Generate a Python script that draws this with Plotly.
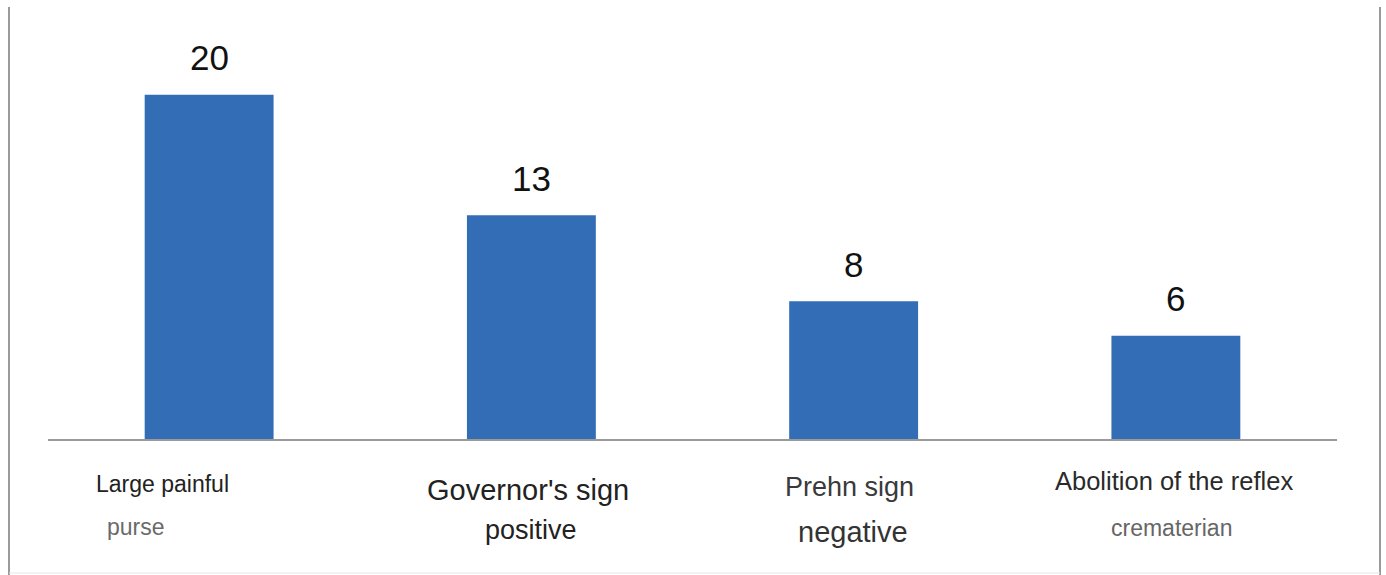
import plotly.graph_objects as go

categories = ["Large painful purse", "Governor's sign positive", "Prehn sign negative", "Abolition of the reflex crematerian"]
values = [20, 13, 8, 6]
label_line1 = ["Large painful", "Governor's sign", "Prehn sign", "Abolition of the reflex"]
label_line2 = ["purse", "positive", "negative", "crematerian"]

W, H = 1386, 575
ML, MR, MT, MB = 48, 49, 26, 136
PH = H - MT - MB

def py(p):
    return (H - MB - p) / PH

def px(p):
    return (p - ML) / (W - ML - MR)

fig = go.Figure()
fig.add_trace(go.Bar(
    x=list(range(len(categories))), y=values, width=0.4,
    marker=dict(color="#336DB5", line=dict(width=0)),
    hoverinfo="skip",
))

for i, v in enumerate(values):
    fig.add_annotation(x=i, y=v, xref="x", yref="y", text=str(v), showarrow=False,
                       yanchor="middle", yshift=37,
                       font=dict(family="Liberation Sans, Arial", size=35, color="#111"))

l1_style = [(23, "#222", -47, 484), (29, "#222", -3, 490), (27, "#3a3a3a", -4, 487), (25.5, "#2a2a2a", -2, 481)]
l2_style = [(23, "#6a6a6a", -73, 527), (27, "#222", 0, 530), (29, "#333", -1, 532), (23, "#666", -4, 528)]
for i in range(len(categories)):
    s, c, dx, yy = l1_style[i]
    fig.add_annotation(x=i, y=py(yy), xref="x", yref="paper", text=label_line1[i], showarrow=False,
                       xshift=dx, yanchor="middle",
                       font=dict(family="Liberation Sans, Arial", size=s, color=c))
    s, c, dx, yy = l2_style[i]
    fig.add_annotation(x=i, y=py(yy), xref="x", yref="paper", text=label_line2[i], showarrow=False,
                       xshift=dx, yanchor="middle",
                       font=dict(family="Liberation Sans, Arial", size=s, color=c))

# frame lines
fig.add_shape(type="line", xref="paper", yref="paper", x0=px(9), x1=px(9), y0=py(7), y1=py(575),
              line=dict(color="#9a9a9a", width=2))
fig.add_shape(type="line", xref="paper", yref="paper", x0=px(1380), x1=px(1380), y0=py(7), y1=py(575),
              line=dict(color="#9a9a9a", width=2))
fig.add_shape(type="line", xref="paper", yref="paper", x0=px(9), x1=px(1380), y0=py(573), y1=py(573),
              line=dict(color="#e6e6e6", width=1))

fig.update_layout(
    width=W, height=H,
    margin=dict(l=ML, r=MR, t=MT, b=MB),
    paper_bgcolor="white", plot_bgcolor="white",
    showlegend=False,
    xaxis=dict(range=[-0.5, 3.5], showticklabels=False, showgrid=False, zeroline=False,
               showline=True, linecolor="#9a9a9a", linewidth=2, ticks=""),
    yaxis=dict(range=[0, 24], visible=False, showgrid=False, zeroline=False),
)

fig.write_html("out.html")
